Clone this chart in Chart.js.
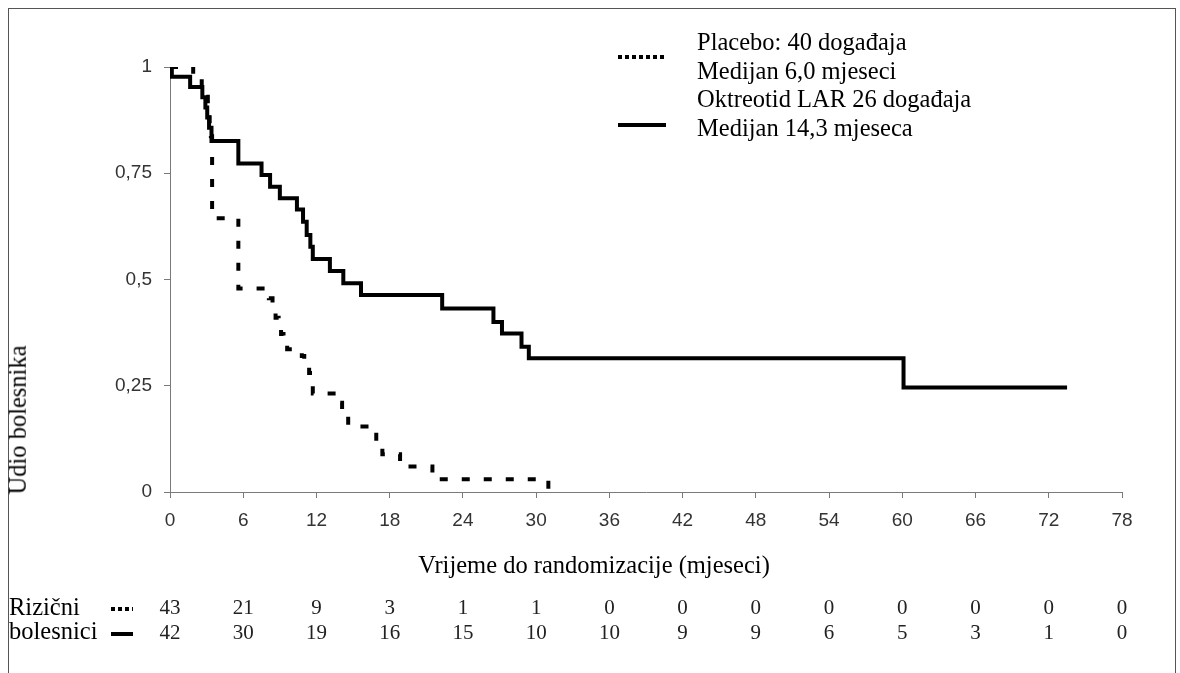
<!DOCTYPE html>
<html lang="hr">
<head>
  <meta charset="UTF-8">
  <title>Vrijeme do progresije</title>
  <script src="https://cdn.jsdelivr.net/npm/chart.js@4.4.1/dist/chart.umd.min.js"></script>
  <style>
    body {
      margin: 0;
      background: #ffffff;
      font-family: 'Liberation Serif', 'Times New Roman', serif;
    }

    #wrap {
      position: relative;
      width: 1180px;
      height: 673px;
      overflow: hidden;
    }

    #frame {
      position: absolute;
      left: 8px;
      top: 8px;
      width: 1168px;
      height: 680px;
      border: 1px solid #555;
      box-sizing: border-box;
    }

    canvas {
      position: absolute;
      left: 0;
      top: 0;
    }

    .txt {
      position: absolute;
      font-size: 24.5px;
      color: #000;
      white-space: nowrap;
      line-height: 1;
    }

    .num {
      position: absolute;
      font-size: 21px;
      color: #222;
      transform: translate(-50%, -50%);
      line-height: 1;
    }

    .dots {
      position: absolute;
      height: 4px;
      background: repeating-linear-gradient(90deg, #000 0 4px, transparent 4px 7px);
    }

    .solid {
      position: absolute;
      height: 4px;
      background: #000;
    }
  </style>
</head>
<body>
<div id="wrap">
  <div id="frame"></div>
  <canvas id="chart" width="1180" height="673"></canvas>

  <!-- legenda -->
  <div class="dots" style="left:618px; top:55px; width:48px;"></div>
  <div class="solid" style="left:618px; top:123px; width:48px;"></div>
  <div id="legend"></div>

  <div class="txt" style="left:18px; top:420px; transform: translate(-50%,-50%) rotate(-90deg);">Udio bolesnika</div>
  <div class="txt" style="left:594px; top:565px; transform: translate(-50%,-50%);">Vrijeme do randomizacije (mjeseci)</div>

  <div class="txt" style="left:9px; top:595px;">Rizični</div>
  <div class="txt" style="left:9px; top:619px;">bolesnici</div>
  <div class="dots" style="left:111px; top:607px; width:22px;"></div>
  <div class="solid" style="left:111px; top:632px; width:22px;"></div>
  <div id="risk"></div>
</div>

<script>
  // podaci procijenjeni s originalne slike (Kaplan-Meier)
  const placeboMonths = [0, 1.9, 2.6, 2.9, 3.1, 3.25, 3.35, 3.45, 5.6, 8.1, 8.4, 8.65, 8.9, 9.1, 9.3, 9.6,
    10.8, 11.0, 11.4, 11.7, 13.8, 14.1, 14.6, 16.1, 16.9, 17.4, 18.85, 21.5, 31.0, 31.2];
  const placeboSurv = [1, 0.977, 0.953, 0.93, 0.907, 0.86, 0.837, 0.644, 0.479, 0.456, 0.432, 0.41, 0.393, 0.372, 0.358, 0.336,
    0.32, 0.305, 0.28, 0.232, 0.21, 0.183, 0.154, 0.142, 0.118, 0.089, 0.06, 0.03, 0, 0];

  const oktMonths = [0, 0.15, 1.65, 2.65, 2.9, 3.05, 3.2, 3.4, 5.6, 7.5, 8.2, 9.0, 10.4, 10.9, 11.2, 11.5, 11.7,
    13.1, 14.2, 15.65, 22.3, 26.5, 27.2, 28.8, 29.4, 60.1, 73.5];
  const oktSurv = [1, 0.977, 0.953, 0.929, 0.905, 0.881, 0.857, 0.826, 0.773, 0.746, 0.718, 0.691, 0.665, 0.636, 0.605, 0.577, 0.548,
    0.52, 0.491, 0.4635, 0.432, 0.40, 0.373, 0.342, 0.3145, 0.246, 0.246];

  const legendLines = ['Placebo: 40 događaja', 'Medijan 6,0 mjeseci', 'Oktreotid LAR 26 događaja', 'Medijan 14,3 mjeseca'];

  const riskMonths = [0, 6, 12, 18, 24, 30, 36, 42, 48, 54, 60, 66, 72, 78];
  const riskPlacebo = [43, 21, 9, 3, 1, 1, 0, 0, 0, 0, 0, 0, 0, 0];
  const riskOkt = [42, 30, 19, 16, 15, 10, 10, 9, 9, 6, 5, 3, 1, 0];

  function toPoints(xs, ys) {
    return xs.map((x, i) => ({ x: x, y: ys[i] }));
  }

  const axisGray = '#7a7a7a';

  const ctx = document.getElementById('chart').getContext('2d');
  const chart = new Chart(ctx, {
    type: 'line',
    data: {
      datasets: [
        {
          label: 'Placebo',
          data: toPoints(placeboMonths, placeboSurv),
          borderColor: '#000',
          borderWidth: 4,
          borderDash: [8, 14],
          stepped: true,
          pointRadius: 0,
          fill: false
        },
        {
          label: 'Oktreotid LAR',
          data: toPoints(oktMonths, oktSurv),
          borderColor: '#000',
          borderWidth: 4,
          stepped: true,
          pointRadius: 0,
          fill: false
        }
      ]
    },
    options: {
      responsive: false,
      animation: false,
      layout: { padding: { left: 0, right: 58, top: 67, bottom: 0 } },
      plugins: {
        legend: { display: false },
        tooltip: { enabled: false }
      },
      scales: {
        x: {
          type: 'linear',
          min: 0,
          max: 78,
          afterFit: (s) => { s.height = 673 - 492; },
          ticks: {
            stepSize: 6,
            color: '#333',
            padding: 11,
            font: { family: "'Liberation Sans', Arial, sans-serif", size: 19 }
          },
          grid: { display: true, drawOnChartArea: false, drawTicks: true, tickLength: 6, color: axisGray },
          border: { display: true, color: axisGray, width: 1 }
        },
        y: {
          min: 0,
          max: 1,
          afterFit: (s) => { s.width = 170; },
          ticks: {
            stepSize: 0.25,
            color: '#333',
            padding: 12,
            font: { family: "'Liberation Sans', Arial, sans-serif", size: 19 },
            callback: (v) => String(v).replace('.', ',')
          },
          grid: { display: true, drawOnChartArea: false, drawTicks: true, tickLength: 6, color: axisGray },
          border: { display: true, color: axisGray, width: 1 }
        }
      }
    }
  });

  // legenda tekst
  const legend = document.getElementById('legend');
  legendLines.forEach((line, i) => {
    const d = document.createElement('div');
    d.className = 'txt';
    d.style.left = '697px';
    d.style.top = (30 + i * 28.7) + 'px';
    d.textContent = line;
    legend.appendChild(d);
  });

  // tablica bolesnika pod rizikom
  const risk = document.getElementById('risk');
  const xs = chart.scales.x;
  riskMonths.forEach((m, i) => {
    const px = xs.getPixelForValue(m);
    [[riskPlacebo[i], 607], [riskOkt[i], 632]].forEach(([val, y]) => {
      const d = document.createElement('div');
      d.className = 'num';
      d.style.left = px + 'px';
      d.style.top = y + 'px';
      d.textContent = val;
      risk.appendChild(d);
    });
  });
</script>
</body>
</html>
